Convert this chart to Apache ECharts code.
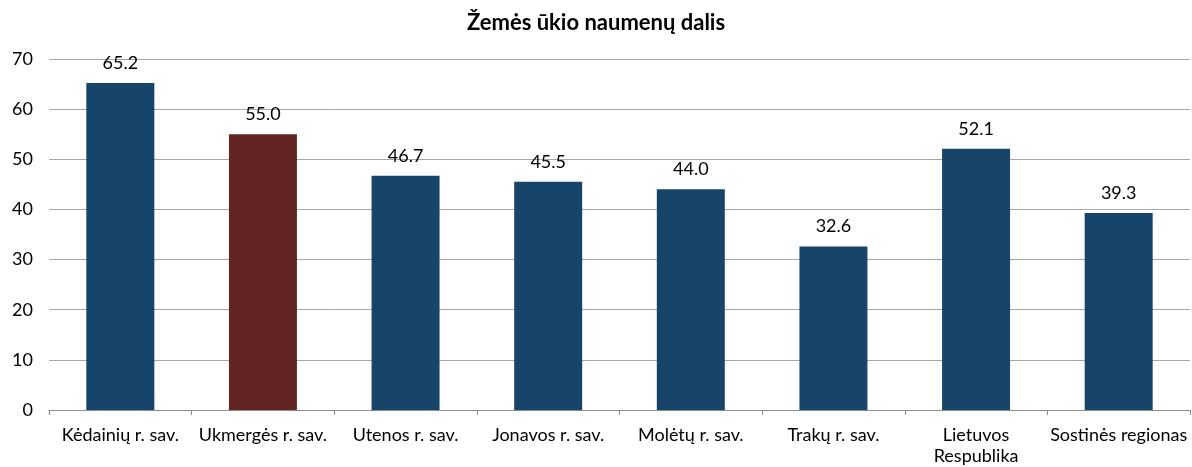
<!DOCTYPE html>
<html>
<head>
<meta charset="utf-8">
<script src="https://cdn.jsdelivr.net/npm/echarts@6/dist/echarts.min.js"></script>
<style>
  html, body { margin: 0; padding: 0; background: #fff; }
  #chart { width: 1192px; height: 467px; }
</style>
</head>
<body>
<div id="chart"></div>
<script>
const categories = ['Kėdainių r. sav.', 'Ukmergės r. sav.', 'Utenos r. sav.', 'Jonavos r. sav.', 'Molėtų r. sav.', 'Trakų r. sav.', 'Lietuvos\nRespublika', 'Sostinės regionas']
const values = [65.2, 55.0, 46.7, 45.5, 44.0, 32.6, 52.1, 39.3]
const highlightIndex = 1

const chart = echarts.init(document.getElementById('chart'))
const font = 'Lato, "Open Sans", sans-serif'

const option = {
  animation: false,
  title: {
    text: 'Žemės ūkio naumenų dalis',
    left: 'center',
    top: 7,
    textStyle: { fontFamily: font, fontSize: 22, fontWeight: 'bold', color: '#000' }
  },
  grid: { left: 49, right: 2, top: 59, bottom: 57, outerBoundsMode: 'none', containLabel: false },
  xAxis: {
    type: 'category',
    data: categories,
    axisLine: { lineStyle: { color: '#8c8c8c' } },
    axisTick: { show: true, length: 5, lineStyle: { color: '#8c8c8c' } },
    axisLabel: { fontFamily: font, fontSize: 18, color: '#000', margin: 15, lineHeight: 21, interval: 0 }
  },
  yAxis: {
    type: 'value',
    min: 0,
    max: 70,
    interval: 10,
    axisLine: { show: false },
    axisTick: { show: false },
    axisLabel: { fontFamily: font, fontSize: 18, color: '#000', margin: 16 },
    splitLine: { lineStyle: { color: '#a6a6a6' } }
  },
  series: [{
    type: 'bar',
    barWidth: 68,
    data: values.map((v, i) => ({
      value: v,
      itemStyle: { color: i === highlightIndex ? '#632523' : '#17456a' }
    })),
    label: {
      show: true,
      position: 'top',
      distance: 11,
      formatter: p => p.value.toFixed(1),
      fontFamily: font,
      fontSize: 18,
      color: '#000'
    }
  }]
}
chart.setOption(option)
</script>
</body>
</html>
